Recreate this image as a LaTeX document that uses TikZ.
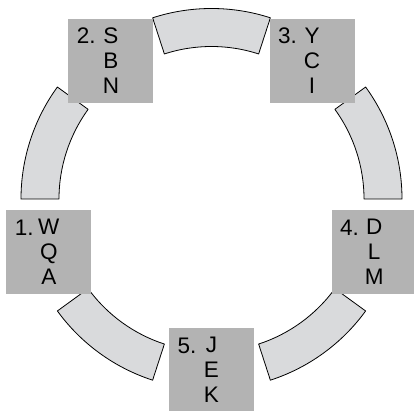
\documentclass[tikz,border=0pt]{standalone}
\usepackage{fontspec}
\setmainfont{Liberation Sans}
\usetikzlibrary{positioning, calc}
\definecolor{stagegray}{HTML}{B3B3B3}
\definecolor{ringgray}{HTML}{D9DADC}
\tikzset{
  stage/.style={rectangle, fill=stagegray, minimum width=85pt, minimum height=84pt,
                inner sep=0pt, align=center, font=\fontsize{22.5}{25}\selectfont},
  stagenum/.style={anchor=base west, inner sep=0pt, font=\fontsize{22.5}{25}\selectfont},
  ringseg/.style={draw=black, fill=ringgray, line width=0.8pt, line join=round},
}

\begin{document}
\begin{tikzpicture}
  \useasboundingbox (-211.5pt,-212pt) rectangle (202.5pt,199pt);

  % ring pieces between the stages
  \draw[ringseg] (144:190.5pt) arc[start angle=144, end angle=180, radius=190.5pt]
    -- (180:152.5pt) arc[start angle=180, end angle=144, radius=152.5pt] -- cycle;
  \draw[ringseg] (72:190.5pt) arc[start angle=72, end angle=108, radius=190.5pt]
    -- (108:152.5pt) arc[start angle=108, end angle=72, radius=152.5pt] -- cycle;
  \draw[ringseg] (0:190.5pt) arc[start angle=0, end angle=36, radius=190.5pt]
    -- (36:152.5pt) arc[start angle=36, end angle=0, radius=152.5pt] -- cycle;
  \draw[ringseg] (288:190.5pt) arc[start angle=288, end angle=324, radius=190.5pt]
    -- (324:152.5pt) arc[start angle=324, end angle=288, radius=152.5pt] -- cycle;
  \draw[ringseg] (216:190.5pt) arc[start angle=216, end angle=252, radius=190.5pt]
    -- (252:152.5pt) arc[start angle=252, end angle=216, radius=152.5pt] -- cycle;

  % stages
  \node[stage] (s1) at (198:171pt) {W\\Q\\A};
  \node[stagenum] (n1) at ([shift={(8.5pt,-25.5pt)}]s1.north west) {1.};

  \node[stage] (s2) at (126:171pt) {S\\B\\N};
  \node[stagenum] (n2) at ([shift={(8.5pt,-25.5pt)}]s2.north west) {2.};

  \node[stage] (s3) at (54:171pt) {Y\\C\\I};
  \node[stagenum] (n3) at ([shift={(8.5pt,-25.5pt)}]s3.north west) {3.};

  \node[stage] (s4) at (342:171pt) {D\\L\\M};
  \node[stagenum] (n4) at ([shift={(8.5pt,-25.5pt)}]s4.north west) {4.};

  \node[stage] (s5) at (270:171pt) {J\\E\\K};
  \node[stagenum] (n5) at ([shift={(8.5pt,-25.5pt)}]s5.north west) {5.};
\end{tikzpicture}
\end{document}
